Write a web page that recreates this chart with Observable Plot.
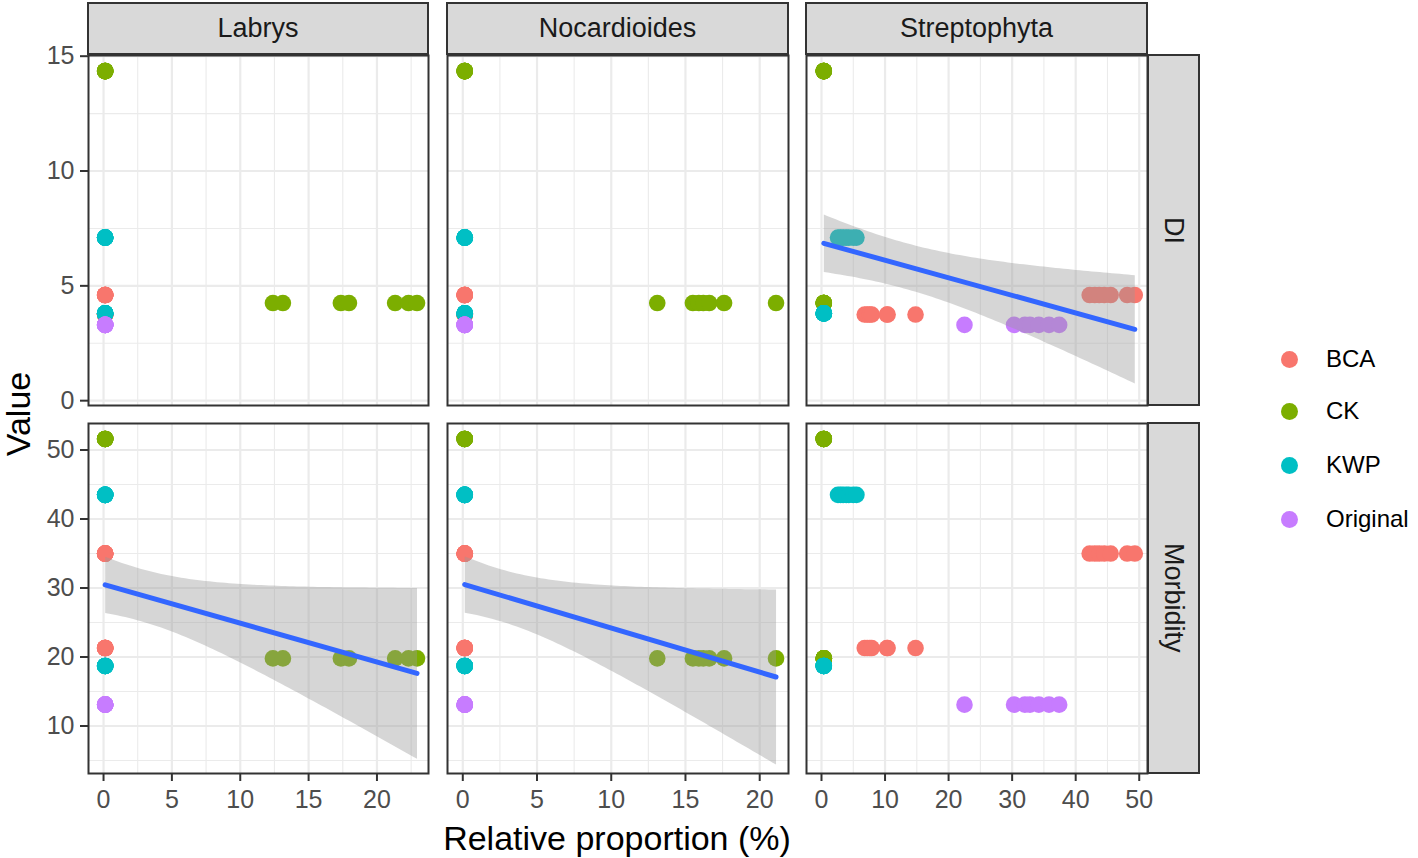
<!DOCTYPE html>
<html>
<head>
<meta charset="utf-8">
<script src="https://cdn.jsdelivr.net/npm/d3@7"></script>
<script src="https://cdn.jsdelivr.net/npm/@observablehq/plot@0.6"></script>
<style>
  body { margin: 0; background: #fff; font-family: "Liberation Sans", Arial, sans-serif; }
  #chart { position: relative; width: 1418px; height: 858px; overflow: hidden; background: #fff; }
  .panel { position: absolute; }
  .panel svg { overflow: visible; display: block; }
  .strip { position: absolute; background: #D9D9D9; border: 2px solid #333333; box-sizing: border-box;
           display: flex; align-items: center; justify-content: center; font-size: 27px; color: #1A1A1A; }
  .strip.v span { writing-mode: vertical-rl; }
  #titles { position: absolute; left: 0; top: 0; pointer-events: none; }
  .leg { position: absolute; font-size: 24px; color: #000; display: flex; align-items: center; white-space: nowrap; }
  .leg i { display: inline-block; width: 17px; height: 17px; border-radius: 50%; margin-right: 28px; }
</style>
</head>
<body>
<div id="chart"></div>
<script>
// ---------- categories ----------
const groups = ["BCA", "CK", "KWP", "Original"];
const groupColors = ["#F8766D", "#7CAE00", "#00BFC4", "#C77CFF"];
const taxa = ["Labrys", "Nocardioides", "Streptophyta"];
const indices = ["DI", "Morbidity"];
const xTitle = "Relative proportion (%)";
const yTitle = "Value";

// ---------- samples (7 treatment/time clusters x 7 replicates) ----------
const sampleGroup = [
  "BCA","BCA","BCA","BCA","BCA","BCA","BCA",
  "BCA","BCA","BCA","BCA","BCA","BCA","BCA",
  "CK","CK","CK","CK","CK","CK","CK",
  "CK","CK","CK","CK","CK","CK","CK",
  "KWP","KWP","KWP","KWP","KWP","KWP","KWP",
  "KWP","KWP","KWP","KWP","KWP","KWP","KWP",
  "Original","Original","Original","Original","Original","Original","Original"
];
const sampleDI = [
  4.6,4.6,4.6,4.6,4.6,4.6,4.6,
  3.75,3.75,3.75,3.75,3.75,3.75,3.75,
  14.35,14.35,14.35,14.35,14.35,14.35,14.35,
  4.25,4.25,4.25,4.25,4.25,4.25,4.25,
  7.1,7.1,7.1,7.1,7.1,7.1,7.1,
  3.8,3.8,3.8,3.8,3.8,3.8,3.8,
  3.3,3.3,3.3,3.3,3.3,3.3,3.3
];
const sampleMorbidity = [
  35.0,35.0,35.0,35.0,35.0,35.0,35.0,
  21.3,21.3,21.3,21.3,21.3,21.3,21.3,
  51.6,51.6,51.6,51.6,51.6,51.6,51.6,
  19.8,19.8,19.8,19.8,19.8,19.8,19.8,
  43.5,43.5,43.5,43.5,43.5,43.5,43.5,
  18.7,18.7,18.7,18.7,18.7,18.7,18.7,
  13.1,13.1,13.1,13.1,13.1,13.1,13.1
];
const sampleLabrys = [
  0.12,0.12,0.12,0.12,0.12,0.12,0.12,
  0.12,0.12,0.12,0.12,0.12,0.12,0.12,
  0.12,0.12,0.12,0.12,0.12,0.12,0.12,
  12.39,13.12,17.36,17.95,21.33,22.31,22.93,
  0.12,0.12,0.12,0.12,0.12,0.12,0.12,
  0.12,0.12,0.12,0.12,0.12,0.12,0.12,
  0.12,0.12,0.12,0.12,0.12,0.12,0.12
];
const sampleNocardioides = [
  0.13,0.13,0.13,0.13,0.13,0.13,0.13,
  0.13,0.13,0.13,0.13,0.13,0.13,0.13,
  0.13,0.13,0.13,0.13,0.13,0.13,0.13,
  13.1,15.5,15.9,16.2,16.6,17.6,21.1,
  0.13,0.13,0.13,0.13,0.13,0.13,0.13,
  0.13,0.13,0.13,0.13,0.13,0.13,0.13,
  0.13,0.13,0.13,0.13,0.13,0.13,0.13
];
const sampleStreptophyta = [
  42.2,43.0,43.7,44.5,45.5,48.1,49.3,
  6.8,7.2,7.6,7.9,10.3,10.4,14.8,
  0.36,0.36,0.36,0.36,0.36,0.36,0.36,
  0.36,0.36,0.36,0.36,0.36,0.36,0.36,
  2.6,3.0,3.4,3.9,4.3,5.0,5.5,
  0.36,0.36,0.36,0.36,0.36,0.36,0.36,
  22.5,30.3,32.0,32.8,34.2,35.8,37.4
];

// ---------- axis ticks ----------
const xMajorTicks = [[0,5,10,15,20], [0,5,10,15,20], [0,10,20,30,40,50]];
const xMinorTicks = [[2.5,7.5,12.5,17.5,22.5], [2.5,7.5,12.5,17.5], [5,15,25,35,45]];
const yMajorTicks = [[0,5,10,15], [10,20,30,40,50]];
const yMinorTicks = [[2.5,7.5,12.5], [5,15,25,35,45]];
const xDomains = [[-1.10, 23.77], [-1.03, 21.94], [-2.36, 51.3]];
const yDomains = [[-0.21, 15.03], [3.12, 53.84]];
// panels with a linear fit (taxon, index)
const smoothPanels = [["Labrys","Morbidity"], ["Nocardioides","Morbidity"], ["Streptophyta","DI"]];

// ---------- layout ----------
const colX = [[88, 428], [447, 788], [806, 1147]];
const rowY = [[55, 405], [423, 773]];

const samples = sampleGroup.map((g, i) => ({
  group: g,
  Labrys: sampleLabrys[i], Nocardioides: sampleNocardioides[i], Streptophyta: sampleStreptophyta[i],
  DI: sampleDI[i], Morbidity: sampleMorbidity[i]
}));

const chart = document.getElementById("chart");
const FONT = '"Liberation Sans", Arial, sans-serif';

function makePanel(ti, ii) {
  const w = colX[ti][1] - colX[ti][0];
  const h = rowY[ii][1] - rowY[ii][0];
  const data = samples.map(s => ({group: s.group, x: s[taxa[ti]], y: s[indices[ii]]}));
  const marks = [
    Plot.ruleX(xMinorTicks[ti], {stroke: "#EBEBEB", strokeWidth: 1.1}),
    Plot.ruleY(yMinorTicks[ii], {stroke: "#EBEBEB", strokeWidth: 1.1}),
    Plot.ruleX(xMajorTicks[ti], {stroke: "#EBEBEB", strokeWidth: 2.2}),
    Plot.ruleY(yMajorTicks[ii], {stroke: "#EBEBEB", strokeWidth: 2.2}),
    Plot.dot(data, {x: "x", y: "y", fill: "group", r: 8.3})
  ];
  if (smoothPanels.some(([t, k]) => t === taxa[ti] && k === indices[ii])) {
    marks.push(Plot.linearRegressionY(data, {x: "x", y: "y", stroke: "#3366FF", strokeWidth: 5,
      fill: "#999999", fillOpacity: 0.4, ci: 0.95}));
  }
  const hasY = ti === 0, hasX = ii === 1;
  if (hasY) marks.push(Plot.axisY(yMajorTicks[ii], {anchor: "left", tickSize: 8, tickPadding: 6, strokeWidth: 2,
    stroke: "#333333", fill: "#4D4D4D", fontSize: 25, label: null}));
  if (hasX) marks.push(Plot.axisX(xMajorTicks[ti], {anchor: "bottom", tickSize: 8, tickPadding: 9, strokeWidth: 2,
    stroke: "#333333", fill: "#4D4D4D", fontSize: 25, label: null}));
  marks.push(Plot.frame({stroke: "#333333", strokeWidth: 2}));
  const plot = Plot.plot({
    width: w, height: h, margin: 0,
    x: {domain: xDomains[ti], ...(hasX ? {} : {axis: null})},
    y: {domain: yDomains[ii], ...(hasY ? {} : {axis: null})},
    color: {domain: groups, range: groupColors},
    style: {fontFamily: FONT, background: "transparent", overflow: "visible"},
    marks
  });
  const div = document.createElement("div");
  div.className = "panel";
  div.style.left = colX[ti][0] + "px";
  div.style.top = rowY[ii][0] + "px";
  div.appendChild(plot);
  chart.appendChild(div);
}

for (let ii = 0; ii < indices.length; ii++)
  for (let ti = 0; ti < taxa.length; ti++) makePanel(ti, ii);

// strips (top)
taxa.forEach((t, ti) => {
  const d = document.createElement("div");
  d.className = "strip";
  d.style.left = (colX[ti][0] - 1) + "px";
  d.style.top = "2px";
  d.style.width = (colX[ti][1] - colX[ti][0] + 2) + "px";
  d.style.height = "53px";
  d.textContent = t;
  chart.appendChild(d);
});
// strips (right)
indices.forEach((k, ii) => {
  const d = document.createElement("div");
  d.className = "strip v";
  d.style.left = (colX[2][1] + 0) + "px";
  d.style.top = (rowY[ii][0] - 1) + "px";
  d.style.width = "53px";
  d.style.height = (rowY[ii][1] - rowY[ii][0] + 2) + "px";
  const s = document.createElement("span");
  s.textContent = k;
  d.appendChild(s);
  chart.appendChild(d);
});

// axis titles (SVG overlay)
const titles = d3.select(chart).append("svg")
  .attr("id", "titles").attr("width", 1418).attr("height", 858)
  .style("font-family", FONT).style("font-size", "34px");
titles.append("text")
  .attr("transform", "translate(18,414) rotate(-90)")
  .attr("text-anchor", "middle").attr("dy", "0.35em")
  .attr("fill", "#000").text(yTitle);
titles.append("text")
  .attr("x", 617).attr("y", 838)
  .attr("text-anchor", "middle").attr("dy", "0.35em")
  .attr("fill", "#000").text(xTitle);

// legend
const legendY = [359, 411, 465, 519];
groups.forEach((g, i) => {
  const d = document.createElement("div");
  d.className = "leg";
  d.style.left = "1281px";
  d.style.top = (legendY[i] - 15) + "px";
  d.style.height = "30px";
  const c = document.createElement("i");
  c.style.background = groupColors[i];
  d.appendChild(c);
  d.appendChild(document.createTextNode(g));
  chart.appendChild(d);
});
</script>
</body>
</html>
